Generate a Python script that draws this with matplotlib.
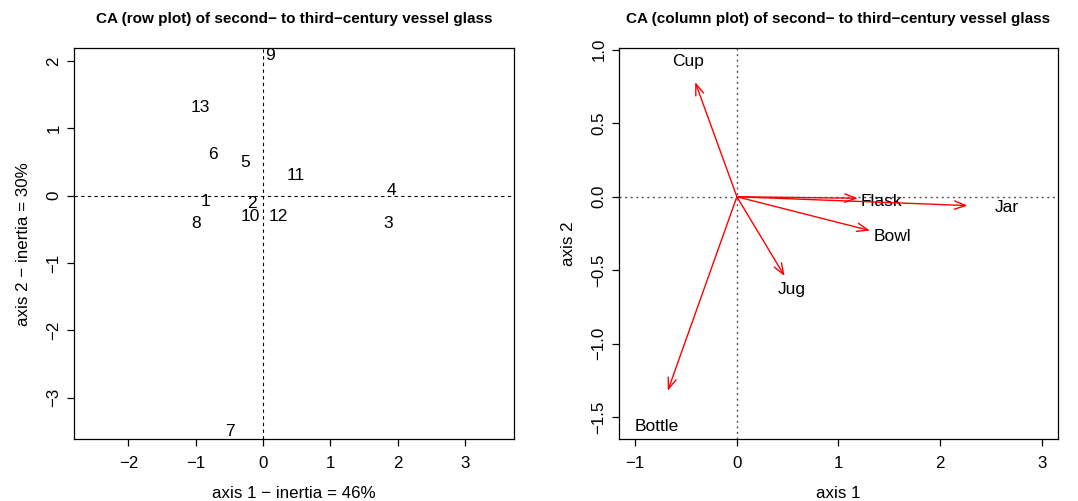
import matplotlib
matplotlib.use("Agg")
import matplotlib.pyplot as plt

plt.rcParams["font.family"] = ["Liberation Sans", "DejaVu Sans"]

# row coordinates (left panel)
row_labels = ["1", "2", "3", "4", "5", "6", "7", "8", "9", "10", "11", "12", "13"]
row_x = [-0.86, -0.16, 1.86, 1.91, -0.27, -0.74, -0.49, -1.00, 0.10, -0.19, 0.49, 0.23, -0.93]
row_y = [-0.09, -0.12, -0.41, 0.07, 0.49, 0.61, -3.51, -0.41, 2.08, -0.31, 0.30, -0.31, 1.31]

# column coordinates (right panel): arrow tips and label positions
col_labels = ["Bottle", "Bowl", "Cup", "Flask", "Jar", "Jug"]
col_x = [-0.68, 1.31, -0.41, 1.19, 2.27, 0.47]
col_y = [-1.32, -0.23, 0.78, -0.01, -0.06, -0.54]
col_lab_x = [-0.79, 1.53, -0.48, 1.42, 2.66, 0.54]
col_lab_y = [-1.56, -0.27, 0.92, -0.03, -0.07, -0.63]

left_xticks = [-2, -1, 0, 1, 2, 3]
left_yticks = [-3, -2, -1, 0, 1, 2]
right_xticks = [-1, 0, 1, 2, 3]
right_yticks = [-1.5, -1.0, -0.5, 0.0, 0.5, 1.0]

FS = 12.2
W, H = 1078, 501
fig = plt.figure(figsize=(W / 100, H / 100), dpi=100)


def r_axes(rect):
    ax = fig.add_axes(rect)
    for sp in ax.spines.values():
        sp.set_linewidth(0.9)
    ax.tick_params(direction="out", length=5, width=0.9, labelsize=FS, pad=7)
    ax.tick_params(axis="y", pad=4)
    return ax


# left panel
ax1 = r_axes([74 / W, 1 - 439.3 / H, 440 / W, 391 / H])
ax1.set_xlim(-2.81, 3.73)
ax1.set_ylim(-3.62, 2.19)
ax1.axhline(0, color="black", ls=(0, (3, 3)), lw=0.8)
ax1.axvline(0, color="black", ls=(0, (3, 3)), lw=0.8)
for lab, x, y in zip(row_labels, row_x, row_y):
    ax1.text(x, y, lab, ha="center", va="center", fontsize=FS + 0.3)
ax1.set_xticks(left_xticks)
ax1.set_yticks(left_yticks)
ax1.set_xticklabels([str(v).replace("-", "\u2212") for v in left_xticks])
ax1.set_yticklabels([str(v).replace("-", "\u2212") for v in left_yticks],
                    rotation=90, va="center")
ax1.set_xlabel("axis 1 \u2212 inertia = 46%", fontsize=FS, labelpad=11)
ax1.set_ylabel("axis 2 \u2212 inertia = 30%", fontsize=FS, labelpad=11)
ax1.set_title("CA (row plot) of second\u2212 to third\u2212century vessel glass",
              fontsize=11, fontweight="bold", pad=18)

# right panel
ax2 = r_axes([619 / W, 1 - 439.3 / H, 439 / W, 391 / H])
ax2.set_xlim(-1.16, 3.16)
ax2.set_ylim(-1.65, 1.01)
ax2.axhline(0, color="#555555", ls=(0, (1.5, 2.5)), lw=1.0)
ax2.axvline(0, color="#555555", ls=(0, (1.5, 2.5)), lw=1.0)
for lab, x, y, lx, ly in zip(col_labels, col_x, col_y, col_lab_x, col_lab_y):
    ax2.annotate("", xy=(x, y), xytext=(0, 0),
                 arrowprops=dict(arrowstyle="->,head_length=0.8,head_width=0.3",
                                 color="red", lw=1.0, shrinkA=0, shrinkB=0))
    ax2.text(lx, ly, lab, ha="center", va="center", fontsize=FS + 0.3)
ax2.set_xticks(right_xticks)
ax2.set_yticks(right_yticks)
ax2.set_xticklabels([str(v).replace("-", "\u2212") for v in right_xticks])
ax2.set_yticklabels([f"{v:.1f}".replace("-", "\u2212") for v in right_yticks],
                    rotation=90, va="center")
ax2.set_xlabel("axis 1", fontsize=FS, labelpad=11)
ax2.set_ylabel("axis 2", fontsize=FS, labelpad=11)
ax2.set_title("CA (column plot) of second\u2212 to third\u2212century vessel glass",
              fontsize=11, fontweight="bold", pad=18)

fig.savefig("out.png", dpi=100)
